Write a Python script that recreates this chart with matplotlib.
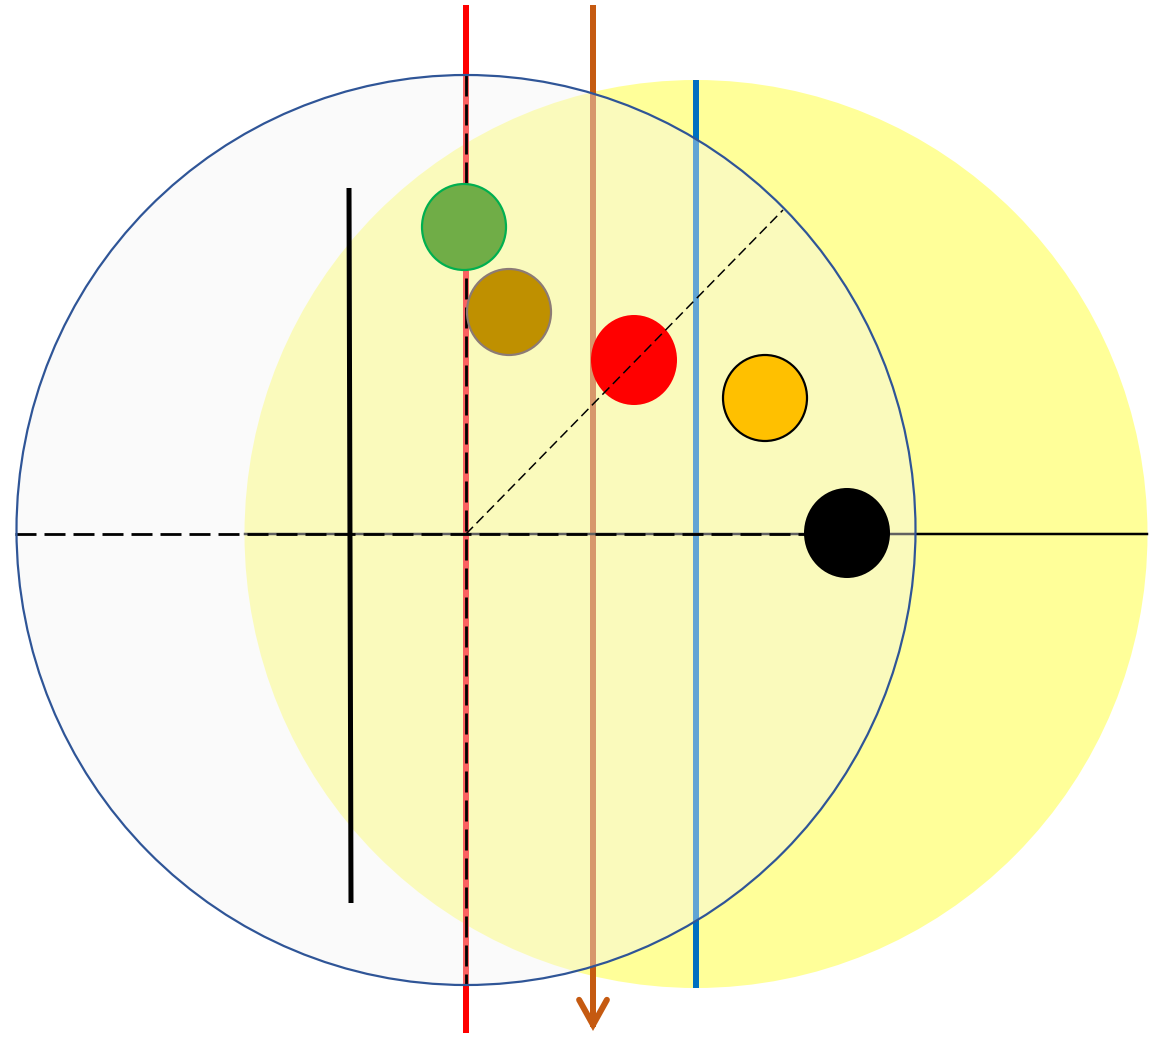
import numpy as np
import matplotlib.pyplot as plt
from matplotlib.patches import Ellipse

# big discs (center x, center y, width, height) in picture pixels
yellow_disc = (696, 534, 903, 908)
white_disc = (466, 530, 899, 910)

# vertical lines: x, y top, y bottom
red_line = (466, 5, 1033)
orange_line = (593, 5, 1031)
blue_line = (696, 80, 988)
black_bar = ((349, 188), (351, 903))

# horizontal axis line
axis_y = 534
axis_solid = (245, 1147)
axis_dashed = (15, 805)
red_dashed = (75, 985)
diag = ((466, 534), (783, 210))

# small balls
ball_x = [464, 509, 634, 765, 847]
ball_y = [227, 312, 360, 398, 533]
ball_w = [84, 84, 86, 84, 86]
ball_h = [86, 86, 90, 86, 90]
ball_fill = ["#70AD47", "#BF9000", "#FF0000", "#FFC000", "#000000"]
ball_edge = ["#00B050", "#8C7B75", "none", "#000000", "none"]

W, H = 1153, 1038
fig = plt.figure(figsize=(W / 100, H / 100), dpi=100)
ax = fig.add_axes([0, 0, 1, 1])
ax.set_xlim(0, W)
ax.set_ylim(H, 0)
ax.axis("off")

px = 0.72  # points per pixel

ax.add_patch(Ellipse(yellow_disc[:2], yellow_disc[2], yellow_disc[3],
                     facecolor="#FFFF99", edgecolor="none", zorder=1))

ax.plot([red_line[0]] * 2, red_line[1:], color="#FF0000", lw=6 * px, zorder=2,
        solid_capstyle="butt")
ax.plot([orange_line[0]] * 2, [orange_line[1], orange_line[2] - 4], color="#C55A11",
        lw=6 * px, zorder=2, solid_capstyle="butt")
ax.annotate("", xy=(orange_line[0], orange_line[2]), xytext=(orange_line[0], orange_line[2] - 40),
            arrowprops=dict(arrowstyle="->,head_length=1.8,head_width=1.0",
                            color="#C55A11", lw=6 * px, shrinkA=0, shrinkB=0,
                            capstyle="round", joinstyle="miter"),
            zorder=2)
ax.plot([blue_line[0]] * 2, blue_line[1:], color="#0070C0", lw=6 * px, zorder=2,
        solid_capstyle="butt")
ax.plot(axis_solid, [axis_y] * 2, color="black", lw=2.5 * px, zorder=2)

# translucent white disc over everything below
ax.add_patch(Ellipse(white_disc[:2], white_disc[2], white_disc[3],
                     facecolor="#F3F3F3", alpha=0.40, edgecolor="none", zorder=3))
ax.add_patch(Ellipse(white_disc[:2], white_disc[2], white_disc[3],
                     facecolor="none", edgecolor="#2F5597", lw=2.2 * px, zorder=6))

lw_d = 2.8 * px
ax.plot(axis_dashed, [axis_y] * 2, color="black", lw=lw_d, zorder=4,
        linestyle=(0, (21 * px / lw_d, 8 * px / lw_d)))
ax.plot([red_line[0]] * 2, red_dashed, color="black", lw=lw_d, zorder=4,
        linestyle=(0, (21 * px / lw_d, 8 * px / lw_d)))

ax.plot([black_bar[0][0], black_bar[1][0]], [black_bar[0][1], black_bar[1][1]],
        color="black", lw=5 * px, zorder=5, solid_capstyle="butt")

for x, y, w, h, fc, ec in zip(ball_x, ball_y, ball_w, ball_h, ball_fill, ball_edge):
    ax.add_patch(Ellipse((x, y), w, h, facecolor=fc, edgecolor=ec,
                         lw=2.2 * px, zorder=7))

# diagonal dashed line runs over the red ball
lw_t = 1.5 * px
ax.plot([diag[0][0], diag[1][0]], [diag[0][1], diag[1][1]], color="black", lw=lw_t,
        zorder=8, linestyle=(0, (10 * px / lw_t, 5 * px / lw_t)))

fig.savefig("out.png", dpi=100)
